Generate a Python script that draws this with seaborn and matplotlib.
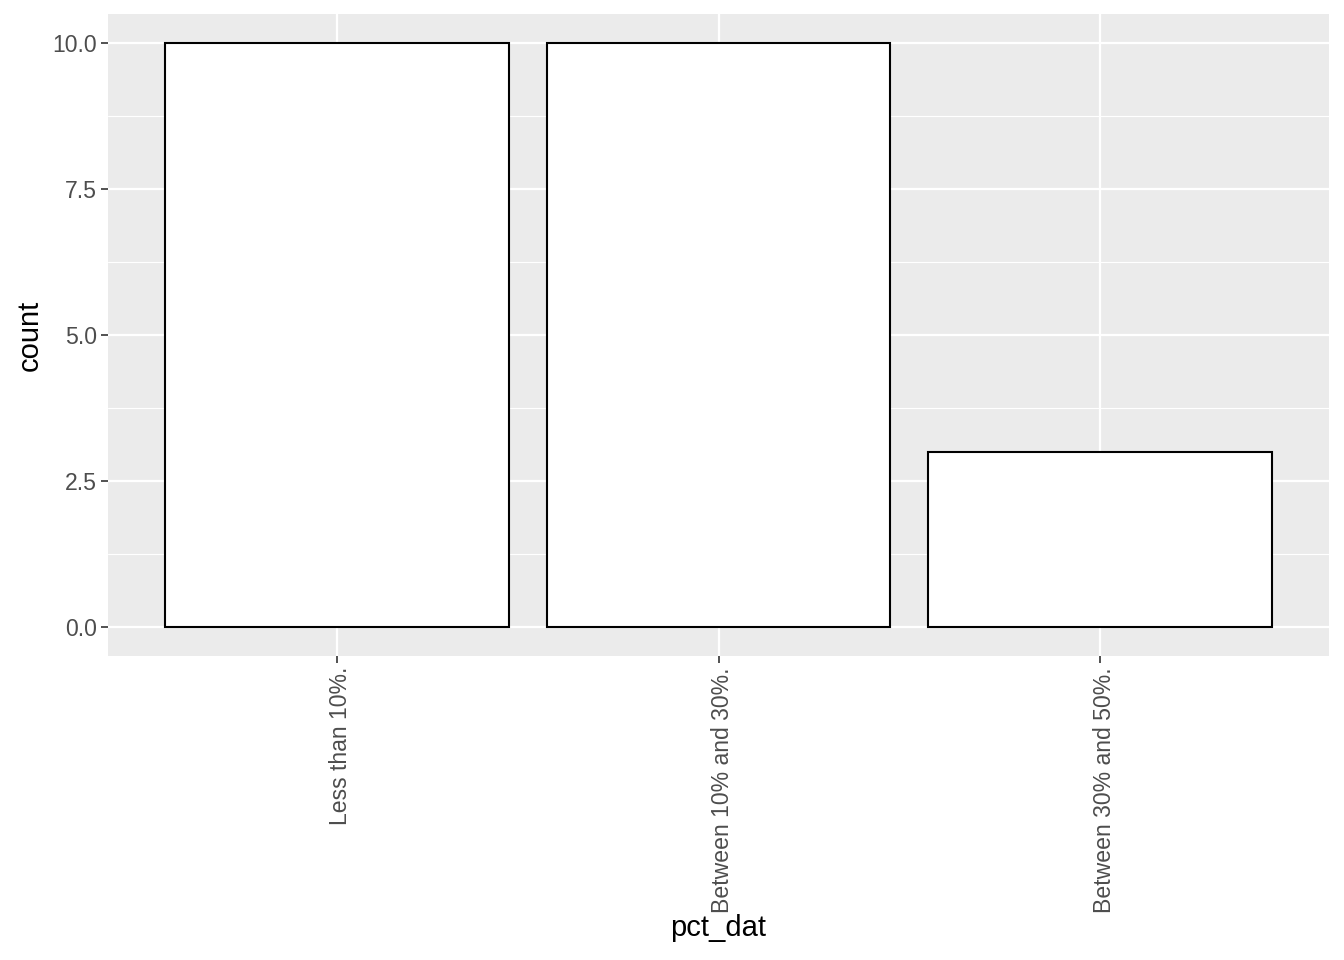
import matplotlib
matplotlib.use("Agg")
import matplotlib.pyplot as plt
import matplotlib.transforms as mtransforms
import seaborn as sns
import pandas as pd
import numpy as np

categories = ["Less than 10%.", "Between 10% and 30%.", "Between 30% and 50%."]
counts = [10, 10, 3]

df = pd.DataFrame({"pct_dat": categories, "count": counts})

sns.set_theme(style="darkgrid")
plt.rcParams["font.family"] = ["Liberation Sans", "DejaVu Sans"]

W, H = 1344, 960
fig = plt.figure(figsize=(W / 100, H / 100), dpi=100)
ax = fig.add_axes([108 / W, (H - 656) / H, (1329 - 108) / W, (656 - 14) / H])
ax.set_facecolor("#EBEBEB")

sns.barplot(data=df, x="pct_dat", y="count", order=categories, ax=ax,
            color="white", edgecolor="black", linewidth=1.5, width=0.9,
            saturation=1, zorder=3)

ax.set_xlim(-0.6, 2.6)
ax.set_ylim(-0.5, 10.5)
ax.set_yticks([0, 2.5, 5.0, 7.5, 10.0])
ax.set_yticklabels(["0.0", "2.5", "5.0", "7.5", "10.0"])
ax.set_yticks([1.25, 3.75, 6.25, 8.75], minor=True)

ax.grid(which="major", color="white", linewidth=1.6, zorder=0)
ax.grid(which="minor", axis="y", color="white", linewidth=0.8, zorder=0)
ax.set_axisbelow(True)
for s in ax.spines.values():
    s.set_visible(False)

ax.tick_params(axis="both", which="major", length=5, width=1.2, color="#333333",
               labelcolor="#4D4D4D", labelsize=16.6, pad=3, bottom=True, left=True)
ax.tick_params(axis="both", which="minor", length=0)
offset = mtransforms.ScaledTranslation(4 / 100, 0, fig.dpi_scale_trans)
for lbl in ax.get_xticklabels():
    lbl.set_rotation(90)
    lbl.set_ha("center")
    lbl.set_va("top")
    lbl.set_transform(lbl.get_transform() + offset)

ax.set_xlabel("pct_dat", fontsize=21, color="black", labelpad=1)
ax.set_ylabel("count", fontsize=21, color="black", labelpad=6)

fig.savefig("out.png", dpi=100, facecolor="white")
